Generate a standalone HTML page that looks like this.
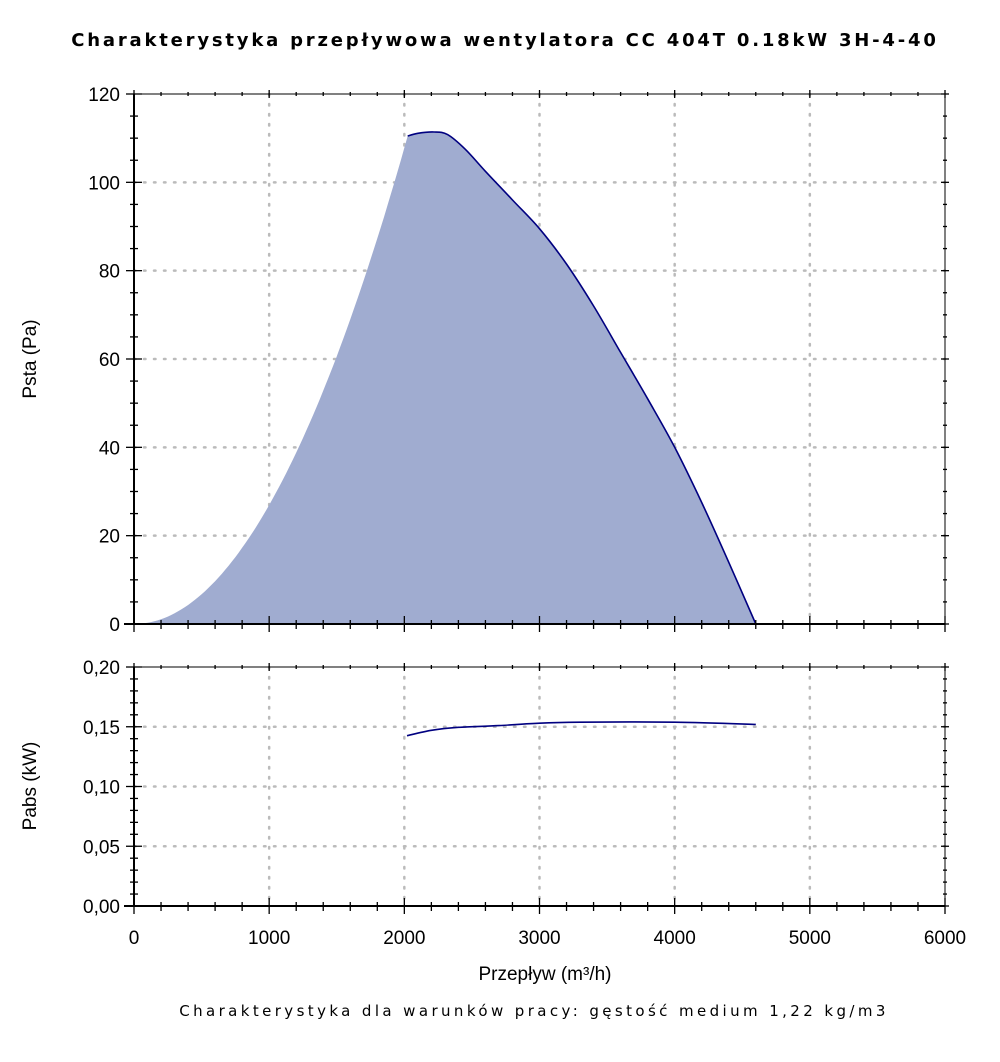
<!DOCTYPE html>
<html><head><meta charset="utf-8"><style>
body{margin:0;background:#fff;width:1000px;height:1062px;overflow:hidden}
svg{display:block}
text{font-family:"DejaVu Sans","Liberation Sans",sans-serif;fill:#000}
</style></head><body>
<svg id="s" width="1000" height="1062" viewBox="0 0 1000 1062" xmlns="http://www.w3.org/2000/svg">
<text x="505" y="46" text-anchor="middle" font-size="18" font-weight="bold" letter-spacing="2.8">Charakterystyka przepływowa wentylatora CC 404T 0.18kW 3H-4-40</text>
<text x="545" y="980" text-anchor="middle" font-size="19" style="font-family:'Liberation Sans',sans-serif">Przepływ (m³/h)</text>
<text x="534" y="1016" text-anchor="middle" font-size="15" letter-spacing="3.4" fill="#333">Charakterystyka dla warunków pracy: gęstość medium 1,22 kg/m3</text>
<text transform="translate(36,359) rotate(-90)" text-anchor="middle" font-size="19" style="font-family:'Liberation Sans',sans-serif">Psta (Pa)</text>
<text transform="translate(36,786) rotate(-90)" text-anchor="middle" font-size="19" style="font-family:'Liberation Sans',sans-serif">Pabs (kW)</text>
<g id="g"></g>
</svg>
<script>
var g=document.getElementById('g'),h='';
function X(v){return 134+v*0.135167}
function YT(p){return 624-p*4.4167}
function YB(q){return 906-q*1195}
var L=134,R=945;
for(var v=1000;v<6000;v+=1000){h+='<line x1="'+X(v)+'" y1="94" x2="'+X(v)+'" y2="624" stroke="#bbb" stroke-width="2.5" stroke-dasharray="1.5 8.5" stroke-linecap="round"/>';
h+='<line x1="'+X(v)+'" y1="667" x2="'+X(v)+'" y2="906" stroke="#bbb" stroke-width="2.5" stroke-dasharray="1.5 8.5" stroke-linecap="round"/>';}
for(var p=20;p<120;p+=20)h+='<line x1="'+L+'" y1="'+YT(p)+'" x2="'+R+'" y2="'+YT(p)+'" stroke="#bbb" stroke-width="2.5" stroke-dasharray="1.5 8.5" stroke-linecap="round"/>';
for(var q=0.05;q<0.19;q+=0.05)h+='<line x1="'+L+'" y1="'+YB(q)+'" x2="'+R+'" y2="'+YB(q)+'" stroke="#bbb" stroke-width="2.5" stroke-dasharray="1.5 8.5" stroke-linecap="round"/>';
function smooth(a,fy){var P=a.map(function(e){return [X(e[0]),fy(e[1])]});var s='M'+P[0][0].toFixed(1)+','+P[0][1].toFixed(1);
for(var i=0;i<P.length-1;i++){var p0=P[Math.max(0,i-1)],p1=P[i],p2=P[i+1],p3=P[Math.min(P.length-1,i+2)];
s+=' C'+(p1[0]+(p2[0]-p0[0])/6).toFixed(1)+','+(p1[1]+(p2[1]-p0[1])/6).toFixed(1)+' '+(p2[0]-(p3[0]-p1[0])/6).toFixed(1)+','+(p2[1]-(p3[1]-p1[1])/6).toFixed(1)+' '+p2[0].toFixed(1)+','+p2[1].toFixed(1);}
return s;}
var fpts=[];for(var v=0;v<=2025;v+=25){fpts.push(X(v).toFixed(1)+','+YT(110.5*Math.pow(v/2025,2)).toFixed(1));}
var lp=[[2025,110.5],[2100,111.1],[2220,111.4],[2320,110.8],[2450,107.5],[2600,102.5],[2800,96],[3000,89.5],[3200,81.5],[3400,72],[3600,61.5],[3800,51],[4000,40],[4200,27.5],[4400,14],[4600,0]];
var ls=smooth(lp,YT);
h+='<path d="M'+fpts.join(' L')+' L'+ls.slice(1)+' Z" fill="#a0acd0"/>';
h+='<path d="'+ls+'" fill="none" stroke="#000080" stroke-width="1.6"/>';
var bp=[[2020,0.1425],[2200,0.147],[2400,0.1495],[2700,0.151],[3000,0.153],[3300,0.1538],[4000,0.1538],[4600,0.152]];
h+='<path d="'+smooth(bp,YB)+'" fill="none" stroke="#000080" stroke-width="1.6"/>';
function frame(t,b){h+='<rect x="'+L+'" y="'+t+'" width="'+(R-L)+'" height="'+(b-t)+'" fill="none" stroke="#000" stroke-width="1"/>';}
frame(94,624);frame(667,906);
h+='<line x1="'+(L-10)+'" y1="624" x2="'+R+'" y2="624" stroke="#000" stroke-width="2"/>';
h+='<line x1="'+(L-10)+'" y1="906" x2="'+R+'" y2="906" stroke="#000" stroke-width="2"/>';
h+='<line x1="'+L+'" y1="94" x2="'+L+'" y2="624" stroke="#000" stroke-width="2"/>';
h+='<line x1="'+L+'" y1="667" x2="'+L+'" y2="906" stroke="#000" stroke-width="2"/>';
[[94,624],[667,906]].forEach(function(f){
for(var v=0;v<=6000;v+=200){var big=v%1000==0,x=X(v);
h+='<line x1="'+x+'" y1="'+(f[1]-(big?8:4))+'" x2="'+x+'" y2="'+(f[1]+(big?8:5))+'" stroke="#000" stroke-width="1.3"/>';
h+='<line x1="'+x+'" y1="'+(f[0]-(big?4:2))+'" x2="'+x+'" y2="'+(f[0]+(big?4:2))+'" stroke="#000" stroke-width="1.3"/>';}});
for(var p=0;p<=120;p+=5){var big=p%20==0,y=YT(p);
h+='<line x1="'+(L-(big?8:4))+'" y1="'+y+'" x2="'+(L+(big?8:4))+'" y2="'+y+'" stroke="#000" stroke-width="1.3"/>';
h+='<line x1="'+(R-(big?4:2))+'" y1="'+y+'" x2="'+(R+(big?4:2))+'" y2="'+y+'" stroke="#000" stroke-width="1.3"/>';
if(big)h+='<text x="'+(L-14)+'" y="'+(y+7)+'" text-anchor="end" font-size="19" style="font-family:\'Liberation Sans\',sans-serif">'+p+'</text>';}
for(var i=0;i<=20;i++){var q=i/100,big=i%5==0,y=YB(q);
h+='<line x1="'+(L-(big?8:4))+'" y1="'+y+'" x2="'+(L+(big?8:4))+'" y2="'+y+'" stroke="#000" stroke-width="1.3"/>';
h+='<line x1="'+(R-(big?4:2))+'" y1="'+y+'" x2="'+(R+(big?4:2))+'" y2="'+y+'" stroke="#000" stroke-width="1.3"/>';
if(big)h+='<text x="'+(L-14)+'" y="'+(y+7)+'" text-anchor="end" font-size="19" style="font-family:\'Liberation Sans\',sans-serif">'+q.toFixed(2).replace('.',',')+'</text>';}
for(var v=0;v<=6000;v+=1000)h+='<text x="'+X(v)+'" y="944" text-anchor="middle" font-size="19" style="font-family:\'Liberation Sans\',sans-serif">'+v+'</text>';
g.innerHTML=h;
</script>
</body></html>
